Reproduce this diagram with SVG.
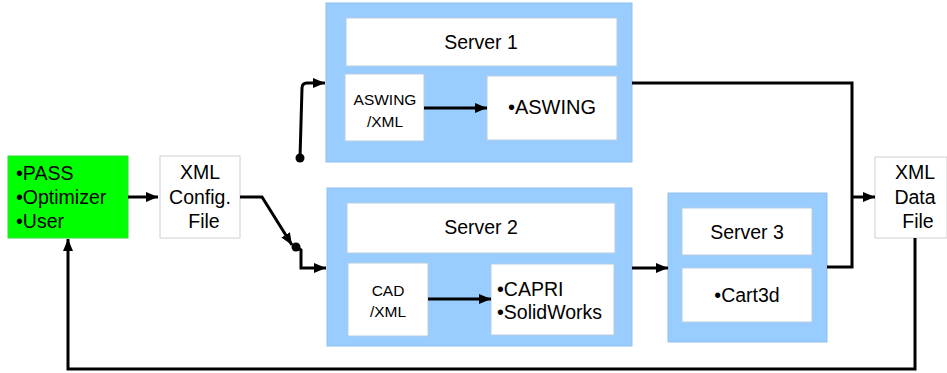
<svg xmlns="http://www.w3.org/2000/svg" width="947" height="373" viewBox="0 0 947 373">
<style>
.srv{fill:#99ccff;stroke:#8fbfef;stroke-width:1}
.box{fill:#ffffff;stroke:#b8cde0;stroke-width:1}
.plain{fill:#ffffff;stroke:#d0d0d0;stroke-width:1}
text{font-family:"Liberation Sans",Arial,sans-serif;fill:#000}
.t18{font-size:19.5px}
.t14{font-size:15.5px}
.t20{font-size:20px}
.c{text-anchor:middle}
.ln{fill:none;stroke:#000;stroke-width:3;stroke-linejoin:miter}
</style>
<defs>
<marker id="ah" viewBox="0 0 12 10" refX="12" refY="5" markerWidth="12" markerHeight="10" markerUnits="userSpaceOnUse" orient="auto">
<path d="M0,0 L12,5 L0,10 Z" fill="#000"/>
</marker>
</defs>
<rect width="947" height="373" fill="#fff"/>
<g id="pass">
<rect x="8" y="156" width="120" height="82" fill="#00ff00" stroke="#33dd33" stroke-width="1"/>
<text class="t18" x="16" y="180">•PASS</text>
<text class="t18" x="16" y="204">•Optimizer</text>
<text class="t18" x="16" y="228">•User</text>
</g>
<g id="config">
<rect class="plain" x="160" y="156" width="80" height="82"/>
<text class="t18 c" x="200" y="179">XML</text>
<text class="t18 c" x="200" y="204">Config.</text>
<text class="t18 c" x="204" y="228">File</text>
</g>
<g id="server1">
<rect class="srv" x="326" y="3" width="306" height="159"/>
<rect class="box" x="346" y="18" width="271" height="48"/>
<text class="t18 c" x="481" y="49">Server 1</text>
<rect class="box" x="345" y="74" width="79" height="67"/>
<text class="t14 c" x="385" y="105">ASWING</text>
<text class="t14 c" x="385" y="127">/XML</text>
<rect class="box" x="487" y="76" width="130" height="64"/>
<text class="t20 c" x="552" y="114">•ASWING</text>
</g>
<g id="server2">
<rect class="srv" x="327" y="188" width="305" height="158"/>
<rect class="box" x="347" y="203" width="268" height="50"/>
<text class="t18 c" x="481" y="234">Server 2</text>
<rect class="box" x="348" y="263" width="80" height="73"/>
<text class="t14 c" x="388" y="296">CAD</text>
<text class="t14 c" x="388" y="317">/XML</text>
<rect class="box" x="491" y="264" width="123" height="71"/>
<text class="t18" x="497" y="296">•CAPRI</text>
<text class="t18" x="497" y="319">•SolidWorks</text>
</g>
<g id="server3">
<rect class="srv" x="668" y="193" width="159" height="149"/>
<rect class="box" x="682" y="208" width="130" height="47"/>
<text class="t18 c" x="747" y="239">Server 3</text>
<rect class="box" x="682" y="268" width="130" height="54"/>
<text class="t18 c" x="747" y="302">•Cart3d</text>
</g>
<g id="datafile">
<rect class="plain" x="875" y="157" width="72" height="81"/>
<text class="t18 c" x="915" y="179">XML</text>
<text class="t18 c" x="915" y="204">Data</text>
<text class="t18 c" x="918" y="228">File</text>
</g>
<g id="connectors">
<path class="ln" d="M128,197 L158,197" marker-end="url(#ah)"/>
<path class="ln" d="M240,197 L262,197 L292,245" marker-end="url(#ah)"/>
<circle cx="296" cy="247" r="4.5" fill="#000"/>
<path class="ln" d="M297,247 L301,250 L301,268 L326,268" marker-end="url(#ah)"/>
<circle cx="300" cy="158" r="4.5" fill="#000"/>
<path class="ln" d="M300,158 L302,88 Q302,83 307,83 L325,83" marker-end="url(#ah)"/>
<path class="ln" d="M424,108 L487,108" marker-end="url(#ah)"/>
<path class="ln" d="M428,299 L491,299" marker-end="url(#ah)"/>
<path class="ln" d="M632,268 L668,268" marker-end="url(#ah)"/>
<path class="ln" d="M632,83 L852,83 L852,267 L827,267"/>
<path class="ln" d="M852,197 L875,197" marker-end="url(#ah)"/>
<path class="ln" d="M915,238 L915,369 L68,369 L68,239" marker-end="url(#ah)"/>
</g>
</svg>
